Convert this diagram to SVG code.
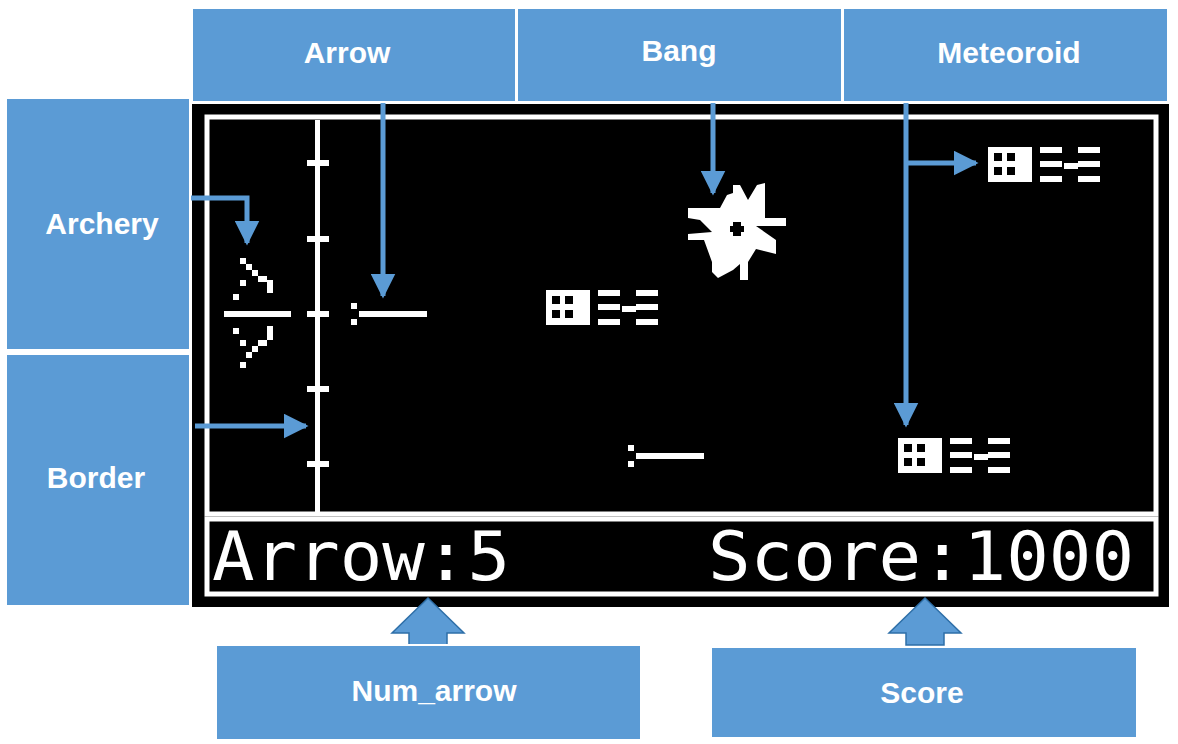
<svg xmlns="http://www.w3.org/2000/svg" width="1178" height="744" viewBox="0 0 1178 744">
<defs>
<style>
.box{fill:#5b9bd5;stroke:#fff;stroke-width:2}
.lbl{font-family:"Liberation Sans",Arial,sans-serif;font-weight:bold;font-size:30px;fill:#fff;text-anchor:middle}
.con{stroke:#5b9bd5;stroke-width:5;fill:none}
.w{fill:#fff}
.hud{font-family:"DejaVu Sans Mono",monospace;font-size:68px;fill:#fff}
</style>
<marker id="ah" viewBox="0 0 10 10" refX="9" refY="5" markerWidth="5" markerHeight="5" orient="auto" markerUnits="strokeWidth"><path d="M0,0 L10,5 L0,10 z" fill="#5b9bd5"/></marker>
<g id="met">
<rect x="0" y="0" width="44" height="35" fill="#fff"/>
<rect x="6" y="6" width="8" height="8" fill="#000"/><rect x="19" y="6" width="8" height="8" fill="#000"/>
<rect x="6" y="20" width="8" height="8" fill="#000"/><rect x="19" y="20" width="8" height="8" fill="#000"/>
<rect x="52" y="0" width="22" height="6" fill="#fff"/><rect x="52" y="14" width="22" height="6" fill="#fff"/><rect x="52" y="29" width="22" height="6" fill="#fff"/>
<rect x="76" y="16" width="14" height="6" fill="#fff"/>
<rect x="90" y="0" width="22" height="6" fill="#fff"/><rect x="90" y="14" width="22" height="6" fill="#fff"/><rect x="90" y="29" width="22" height="6" fill="#fff"/>
</g>
</defs>
<rect width="1178" height="744" fill="#fff"/>
<g id="screen">
<rect x="192" y="104" width="977" height="503" fill="#000"/>
<rect x="207" y="117" width="949" height="397" fill="none" stroke="#fff" stroke-width="5"/>
<rect x="207" y="519" width="949" height="75" fill="none" stroke="#fff" stroke-width="5"/>
<rect x="315" y="120" width="5" height="394" class="w"/>
<rect x="307" y="160" width="22" height="6" class="w"/><rect x="307" y="236" width="22" height="6" class="w"/><rect x="307" y="311" width="22" height="6" class="w"/><rect x="307" y="386" width="22" height="6" class="w"/><rect x="307" y="461" width="22" height="6" class="w"/>
<g id="bow" class="w">
<rect x="224" y="311" width="67" height="6"/>
<rect x="240" y="258" width="6" height="6"/><rect x="246" y="264" width="6" height="6"/><rect x="252" y="270" width="6" height="6"/><rect x="258" y="276" width="9" height="6"/><rect x="267" y="280" width="6" height="13"/>
<rect x="240" y="280" width="6" height="6"/><rect x="233" y="294" width="6" height="6"/>
<rect x="233" y="328" width="6" height="6"/><rect x="240" y="340" width="6" height="6"/>
<rect x="267" y="326" width="6" height="14"/><rect x="258" y="340" width="9" height="6"/><rect x="252" y="346" width="6" height="6"/><rect x="246" y="352" width="6" height="6"/><rect x="240" y="362" width="6" height="6"/>
</g>
<g id="arrow1" class="w"><rect x="359" y="311" width="68" height="6"/><rect x="351" y="303" width="6" height="6"/><rect x="351" y="319" width="6" height="6"/></g>
<g id="arrow2" class="w"><rect x="636" y="453" width="68" height="6"/><rect x="628" y="445" width="6" height="6"/><rect x="628" y="461" width="6" height="6"/></g>
<use href="#met" x="546" y="290"/>
<use href="#met" x="988" y="147"/>
<use href="#met" x="898" y="438"/>
<g id="bang" class="w">
<polygon points="688,208 720,208 727,195 733,193 733,185 740,185 748,200 757,185 765,183 765,218 786,218 786,226 756,226 776,240 776,254 756,249 748,262 748,280 740,280 740,264 733,270 718,278 712,272 712,262 704,240 688,240 688,234 712,232 700,220 688,218"/>
<rect x="733" y="222" width="8" height="14" fill="#000"/><rect x="730" y="226" width="14" height="6" fill="#000"/>
</g>
<text class="hud" x="212" y="580" textLength="298" lengthAdjust="spacingAndGlyphs">Arrow:5</text>
<text class="hud" x="708" y="580" textLength="426" lengthAdjust="spacingAndGlyphs">Score:1000</text>
</g>
<g id="connectors">
<path class="con" d="M383,100 V296" marker-end="url(#ah)"/>
<path class="con" d="M713,100 V193" marker-end="url(#ah)"/>
<path class="con" d="M906,100 V425" marker-end="url(#ah)"/>
<path class="con" d="M906,163 H976" marker-end="url(#ah)"/>
<path class="con" d="M190,198 H247 V243" marker-end="url(#ah)"/>
<path class="con" d="M195,426 H306" marker-end="url(#ah)"/>
<polygon points="409,645 409,633 392,633 428,598 464,633 447,633 447,645" fill="#5b9bd5" stroke="#2e6fa8" stroke-width="1.5"/>
<polygon points="906,645 906,633 889,633 925,598 961,633 944,633 944,645" fill="#5b9bd5" stroke="#2e6fa8" stroke-width="1.5"/>
</g>
<g id="n-arrow"><rect class="box" x="192" y="8" width="324" height="94"/><text class="lbl" x="347" y="63">Arrow</text></g>
<g id="n-bang"><rect class="box" x="517" y="8" width="325" height="94"/><text class="lbl" x="679" y="61">Bang</text></g>
<g id="n-meteoroid"><rect class="box" x="843" y="8" width="325" height="94"/><text class="lbl" x="1009" y="63">Meteoroid</text></g>
<g id="n-archery"><rect class="box" x="6" y="98" width="184" height="252"/><text class="lbl" x="102" y="234">Archery</text></g>
<g id="n-border"><rect class="box" x="6" y="354" width="184" height="252"/><text class="lbl" x="96" y="488">Border</text></g>
<g id="n-num"><rect class="box" x="216" y="645" width="425" height="95" stroke="#2e6fa8"/><text class="lbl" x="434" y="701">Num_arrow</text></g>
<g id="n-score"><rect class="box" x="711" y="647" width="426" height="91" stroke="#2e6fa8"/><text class="lbl" x="922" y="703">Score</text></g>
</svg>
